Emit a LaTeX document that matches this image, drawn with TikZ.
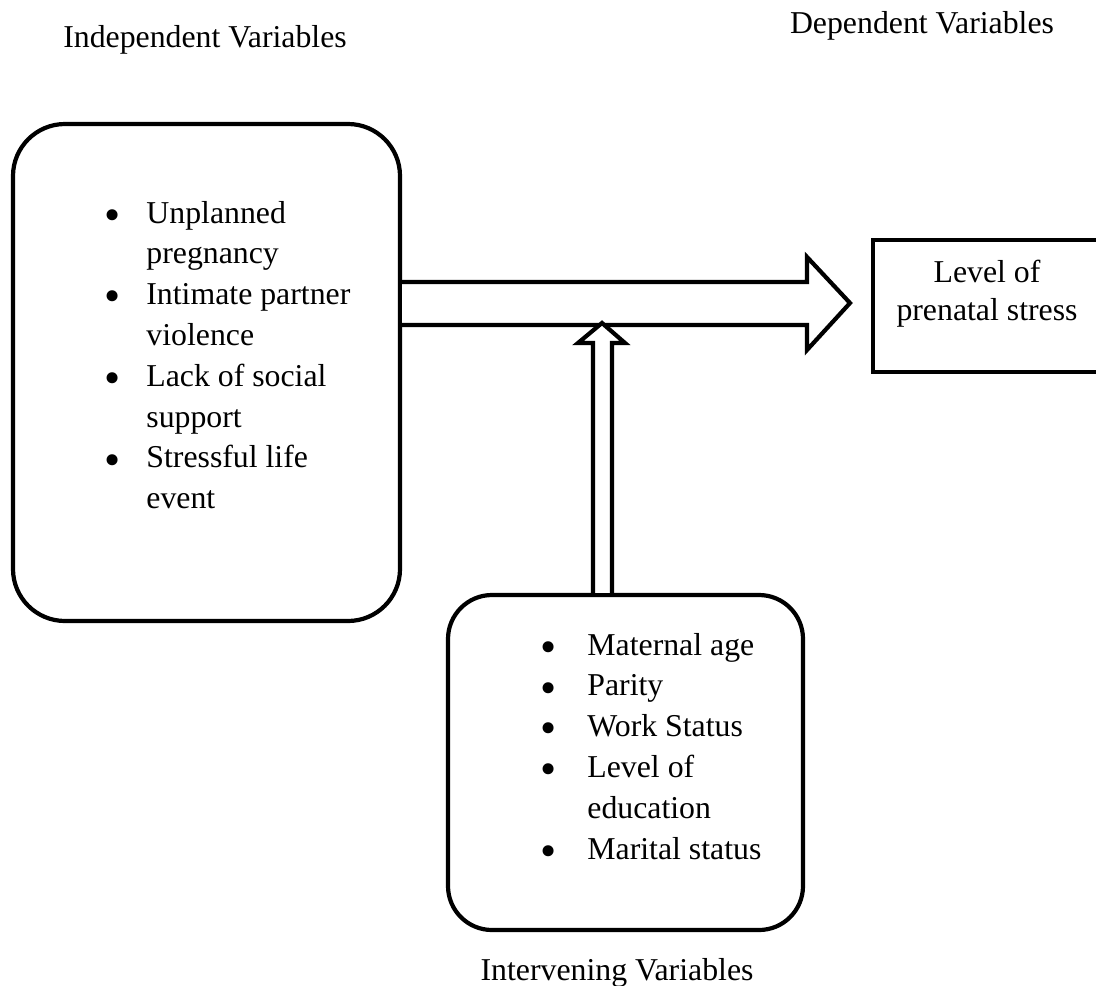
\documentclass[tikz,border=0pt]{standalone}
\usepackage{fontspec}
\setmainfont{Liberation Serif}
\usepackage{graphicx}
\usepackage{tikz}
\usetikzlibrary{positioning}

\newcommand{\varfont}{\fontsize{15.9}{20.4}\selectfont}
\newcommand{\bigbul}{\smash{\raisebox{-3.6pt}{\scalebox{1.45}{\textbullet}}}}

\begin{document}
\begin{tikzpicture}[x=0.5pt,y=-0.5pt,
  every node/.style={inner sep=0pt,font=\varfont},
  varbox/.style={draw=black,line width=2.1pt,rounded corners=26pt},
  dvbox/.style={draw=black,line width=2.4pt,rectangle},
  blockarrow/.style={draw=black,line width=2.1pt,fill=white,line join=miter}]
  \useasboundingbox (0,0) rectangle (1096,985);
  % titles
  \node[anchor=base] (indtitle) at (205,47) {Independent Variables};
  \node[anchor=base] (deptitle) at (922,33) {Dependent Variables};
  \node[anchor=base] (inttitle) at (617,980) {Intervening Variables};
  % boxes
  \node[varbox,minimum width=193.5pt,minimum height=248.5pt] (indbox) at (206.5,372.5) {};
  \node[varbox,minimum width=177.5pt,minimum height=167.5pt,rounded corners=22pt] (intbox) at (625.5,762.5) {};
  \node[dvbox,minimum width=115pt,minimum height=66pt] (depbox) at (988,306) {};
  % box texts
  \node[anchor=base west] (indlist) at (104,223) {\begin{tabular}[t]{@{}p{21pt}@{}l@{}}
    \bigbul & Unplanned\\
            & pregnancy\\
    \bigbul & Intimate partner\\
            & violence\\
    \bigbul & Lack of social\\
            & support\\
    \bigbul & Stressful life\\
            & event
  \end{tabular}};
  \node[anchor=base west] (intlist) at (540,655) {\begin{tabular}[t]{@{}p{23.5pt}@{}l@{}}
    \bigbul & Maternal age\\
    \bigbul & Parity\\
    \bigbul & Work Status\\
    \bigbul & Level of\\
            & education\\
    \bigbul & Marital status
  \end{tabular}};
  \node[anchor=base] (deptext) at (987,282) {\fontsize{15.9}{19pt}\selectfont\begin{tabular}[t]{@{}c@{}}
    Level of\\
    prenatal stress
  \end{tabular}};
  % arrows
  \draw[blockarrow] (indbox.east |- 0,282) -- (807,282) -- (807,257) -- (850,303)
    -- (807,350) -- (807,325) -- (indbox.east |- 0,325);
  \draw[blockarrow] (593,0 |- intbox.north) -- (593,343) -- (578,343) -- (602,323)
    -- (625,343) -- (612,343) -- (612,0 |- intbox.north);
\end{tikzpicture}
\end{document}
